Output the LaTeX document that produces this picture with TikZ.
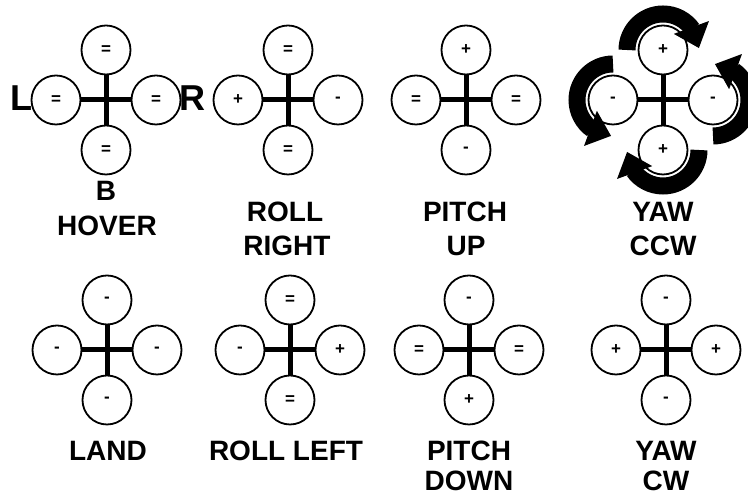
\documentclass[tikz,border=0pt]{standalone}
\usepackage{fontspec}
\setmainfont{Liberation Sans}
\usetikzlibrary{arrows.meta,bending}
\tikzset{
  rotor/.style={circle,draw,line width=1.8pt,minimum size=49pt,inner sep=0pt,fill=white,
    font=\bfseries\fontsize{17}{17}\selectfont},
  arm/.style={line width=5pt},
  lbl/.style={inner sep=0pt,font=\bfseries\fontsize{28}{28}\selectfont},
  side/.style={inner sep=0pt,font=\bfseries\fontsize{36}{36}\selectfont},
  yawarrow/.style={line width=17pt,-{Triangle[length=22pt,width=36pt]}}
}
\newcommand{\drone}[5]{%
  \node[rotor] (#1t) at ([yshift=50pt]#1) {#2};
  \node[rotor] (#1l) at ([xshift=-50pt]#1) {#3};
  \node[rotor] (#1r) at ([xshift=50pt]#1) {#4};
  \node[rotor] (#1b) at ([yshift=-50pt]#1) {#5};
  \draw[arm] (#1t) -- (#1b);
  \draw[arm] (#1l) -- (#1r);
}
\begin{document}
\begin{tikzpicture}[x=1pt,y=1pt]
\useasboundingbox (0,0) rectangle (748,497);
\fill[white] (0,0) rectangle (748,497);
% centres
\coordinate (hov) at (106,397);
\coordinate (rr) at (288,397);
\coordinate (pu) at (466,397);
\coordinate (yc) at (663,397);
\coordinate (ld) at (107,147);
\coordinate (rl) at (290,147);
\coordinate (pd) at (469,147);
\coordinate (yw) at (666,147);
% drones
\drone{hov}{=}{=}{=}{=}
\drone{rr}{=}{+}{-}{=}
\drone{pu}{+}{=}{=}{-}
\drone{yc}{+}{-}{-}{+}
\drone{ld}{-}{-}{-}{-}
\drone{rl}{=}{-}{+}{=}
\drone{pd}{-}{=}{=}{+}
\drone{yw}{-}{+}{+}{-}
% yaw arrows
\draw[yawarrow] ([shift={(180:36)}]yct.center) arc[start angle=180,end angle=3,radius=36];
\draw[yawarrow] ([shift={(-90:36)}]ycr.center) arc[start angle=-90,end angle=87,radius=36];
\draw[yawarrow] ([shift={(0:36)}]ycb.center) arc[start angle=0,end angle=-177,radius=36];
\draw[yawarrow] ([shift={(90:36)}]ycl.center) arc[start angle=90,end angle=267,radius=36];
% side labels
\node[side] (lL) at (21,399) {L};
\node[side] (lR) at (192,399) {R};
\node[lbl] (lB) at (106,306) {B};
% captions
\node[lbl] (c1) at (107,271) {HOVER};
\node[lbl] (c2a) at (285,285) {ROLL};
\node[lbl] (c2b) at (287,251) {RIGHT};
\node[lbl] (c3a) at (465,285) {PITCH};
\node[lbl] (c3b) at (466,251) {UP};
\node[lbl] (c4a) at (663,285) {YAW};
\node[lbl] (c4b) at (663,251) {CCW};
\node[lbl] (c5) at (108,46) {LAND};
\node[lbl] (c6) at (286,46) {ROLL LEFT};
\node[lbl] (c7a) at (469,46) {PITCH};
\node[lbl] (c7b) at (469,16) {DOWN};
\node[lbl] (c8a) at (666,46) {YAW};
\node[lbl] (c8b) at (666,16) {CW};
\end{tikzpicture}
\end{document}
